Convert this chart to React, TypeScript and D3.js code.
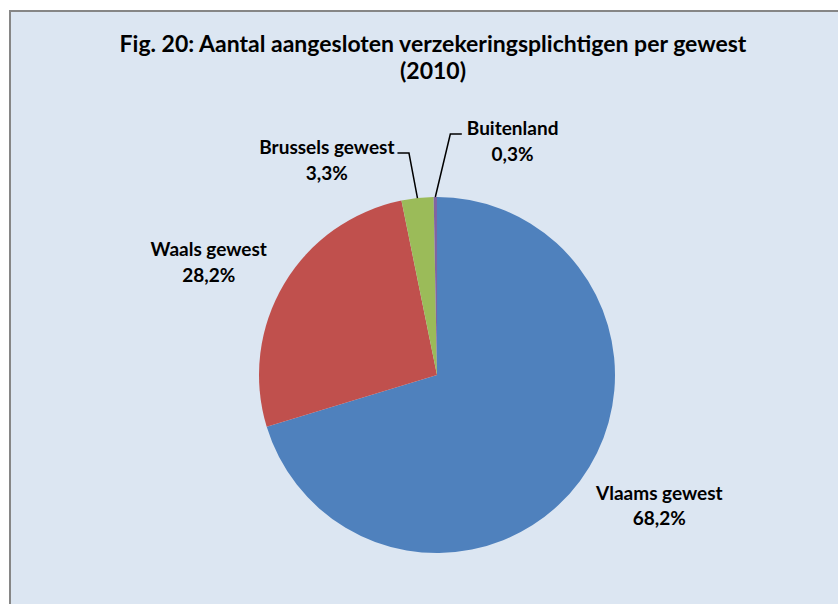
import * as d3 from "d3";

const regions = ["Vlaams gewest", "Waals gewest", "Brussels gewest", "Buitenland"];
// slice sizes as drawn in the picture (share of the full circle, %)
const shares = [70.3, 26.5, 2.9, 0.3];
const shareLabels = ["68,2%", "28,2%", "3,3%", "0,3%"];
const colors = ["#4f81bd", "#c0504d", "#9bbb59", "#8064a2"];
const titleLines = ["Fig. 20: Aantal aangesloten verzekeringsplichtigen per gewest", "(2010)"];

const W = 838;
const H = 604;
const cx = 437;
const cy = 375;
const radius = 178;
const font = "Lato, 'Open Sans', sans-serif";
const labelSize = 19;
const lineGap = 25.5;
const capH = 13;

interface Datum {
	name: string;
	value: number;
	label: string;
	color: string;
}

let ctx: CanvasRenderingContext2D | null = null;
function textWidth(s: string) {
	if (!ctx) ctx = document.createElement("canvas").getContext("2d");
	if (!ctx) return s.length * labelSize * 0.5;
	ctx.font = `bold ${labelSize}px Lato`;
	return ctx.measureText(s).width;
}

function App() {
	const data: Datum[] = regions.map((name, i) => ({
		name,
		value: shares[i],
		label: shareLabels[i],
		color: colors[i],
	}));
	const pie = d3.pie<Datum>().sort(null).value((d) => d.value);
	const arcs = pie(data);
	const arc: any = d3.arc<d3.PieArcDatum<Datum>>().innerRadius(0).outerRadius(radius);

	const labels = arcs.map((a, i) => {
		const mid = (a.startAngle + a.endAngle) / 2;
		const share = (a.endAngle - a.startAngle) / (2 * Math.PI);
		const dx = Math.sin(mid);
		const dy = -Math.cos(mid);
		const w = Math.max(textWidth(a.data.name), textWidth(a.data.label));
		if (share > 0.05) {
			// outside end: box edge just off the rim, vertically nudged along the ray
			const px = cx + (radius + 20) * dx;
			const py = cy + (radius + 20) * dy;
			const h = capH + lineGap;
			const left = dx > 0 ? px : px - w;
			const midY = py + dy * 22;
			return { a, x: left + w / 2, y: midY - h / 2 + capH, line: null as null | string };
		}
		// thin slices: leader line up over the top of the pie
		const ex = cx + radius * dx;
		const ey = cy + radius * dy;
		const right = i === arcs.length - 1;
		const side = right ? 1 : -1;
		const elbowX = ex + (right ? 15 : -8.5);
		const elbowY = ey - (right ? 63 : 45);
		const endX = elbowX + side * 11.5;
		const path = d3.line()([
			[ex, ey],
			[elbowX, elbowY],
			[endX, elbowY],
		]);
		const x = right ? endX + 5 + w / 2 : endX - 3 - w / 2;
		return { a, x, y: elbowY + 1, line: path };
	});

	return (
		<div style={{ position: "fixed", left: 0, top: 0 }}>
			<svg width={W} height={H} style={{ display: "block", background: "#fff" }}>
				<rect x={10} y={11} width={W} height={H} fill="#dce6f2" stroke="#868686" strokeWidth={2} />
				<g fontFamily={font} fontWeight="bold" fill="#000">
					{titleLines.map((t, i) => (
						<text key={i} x={433} y={52 + i * 27} textAnchor="middle" fontSize={23}>
							{t}
						</text>
					))}
				</g>
				<g transform={`translate(${cx},${cy})`}>
					{arcs.map((a, i) => (
						<path key={i} d={arc(a)} fill={a.data.color} />
					))}
				</g>
				{labels.map((l, i) =>
					l.line ? <path key={i} d={l.line} fill="none" stroke="#000" strokeWidth={1.5} /> : null
				)}
				<g fontFamily={font} fontWeight="bold" fontSize={labelSize} fill="#000">
					{labels.map((l, i) => (
						<text key={i} x={l.x} y={l.y} textAnchor="middle">
							<tspan x={l.x}>{l.a.data.name}</tspan>
							<tspan x={l.x} dy={lineGap}>{l.a.data.label}</tspan>
						</text>
					))}
				</g>
			</svg>
		</div>
	);
}

export default App;
